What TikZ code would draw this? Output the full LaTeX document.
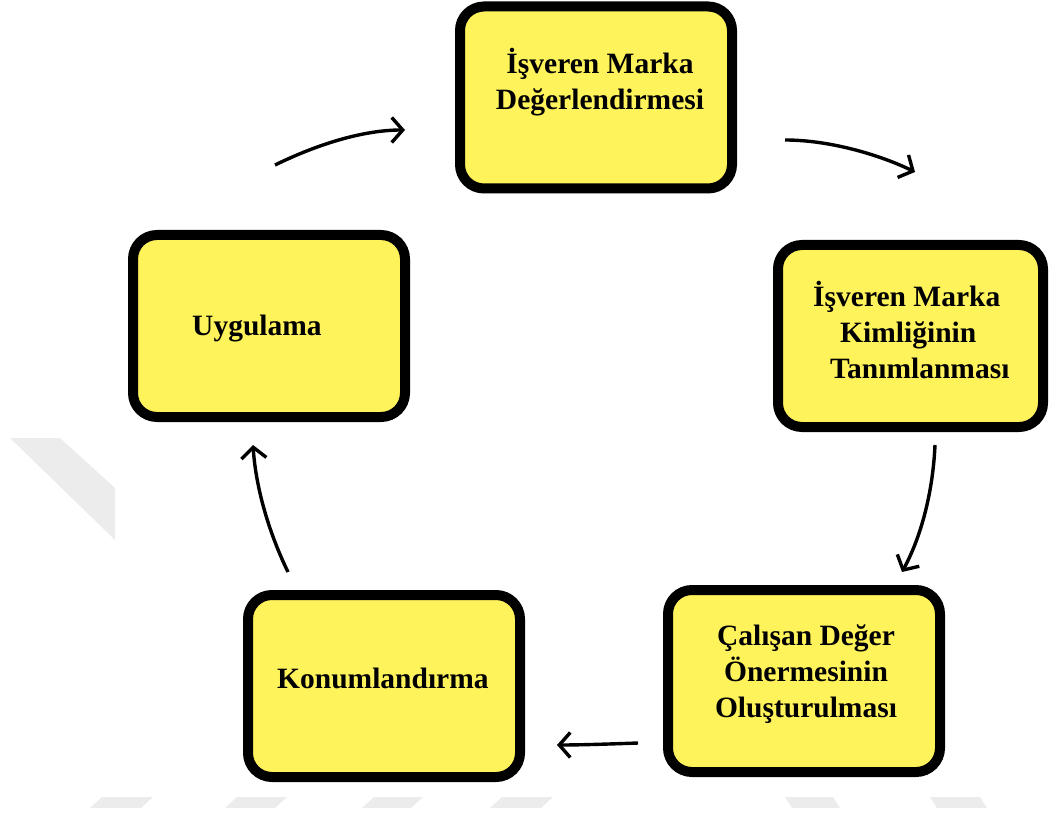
\documentclass[tikz,border=0pt]{standalone}
\usepackage{fontspec}
\setmainfont{Liberation Serif}
\usetikzlibrary{arrows.meta}
\definecolor{boxyellow}{RGB}{255,243,92}
\definecolor{wm}{RGB}{236,236,236}
\tikzset{
  stepbox/.style={draw=black, line width=10pt, fill=boxyellow, rounded corners=24pt,
    minimum width=272pt, minimum height=182pt, inner sep=0pt},
  boxtext/.style={font=\fontsize{29.5}{36}\selectfont\bfseries, inner sep=0pt},
  cyc/.style={line width=3.4pt, -{Straight Barb[length=11pt,width=25pt,line width=3.4pt]}},
  wmark/.style={fill=wm, draw=none}
}
\begin{document}
\begin{tikzpicture}[x=1pt,y=-1pt]
\useasboundingbox (0,0) rectangle (1049,818);
% watermark
\fill[wmark] (10,438) -- (60,438) -- (115,488) -- (115,540) -- cycle;
\fill[wmark] (90,808) -- (102,797) -- (153,797) -- (141,808) -- cycle;
\fill[wmark] (225,808) -- (237,797) -- (287,797) -- (275,808) -- cycle;
\fill[wmark] (362,808) -- (374,797) -- (423,797) -- (411,808) -- cycle;
\fill[wmark] (490,808) -- (502,797) -- (553,797) -- (541,808) -- cycle;
\fill[wmark] (785,797) -- (833,797) -- (840,808) -- (792,808) -- cycle;
\fill[wmark] (930,797) -- (980,797) -- (987,808) -- (937,808) -- cycle;
% boxes
\node[stepbox] (b1) at (596,97.5) {};
\node[stepbox, minimum width=265pt] (b2) at (910.5,336) {};
\node[stepbox] (b3) at (804,681) {};
\node[stepbox] (b4) at (384,686) {};
\node[stepbox] (b5) at (269,326) {};
% texts (base anchor = baseline of the last line)
\node[boxtext, align=center, anchor=base] (t1) at (600,110) {İşveren Marka\\Değerlendirmesi};
\node[boxtext, align=left, anchor=base west] (t2) at (813,378) {İşveren Marka\\\hspace*{27pt}Kimliğinin\\\hspace*{17pt}Tanımlanması};
\node[boxtext, align=center, anchor=base] (t3) at (806,717) {Çalışan Değer\\Önermesinin\\Oluşturulması};
\node[boxtext, anchor=base west] (t4) at (277,688) {Konumlandırma};
\node[boxtext, anchor=base west] (t5) at (192,335) {Uygulama};
% arrow end points
\coordinate (a1s) at (275,165);
\coordinate (a1e) at (405,130);
\coordinate (a2s) at (785,140);
\coordinate (a2e) at (915,172);
\coordinate (a3s) at (935,445);
\coordinate (a3e) at (902,572);
\coordinate (a4s) at (638,743);
\coordinate (a4e) at (557,745);
\coordinate (a5s) at (288,572);
\coordinate (a5e) at (253,445);
\draw[cyc] (a1s) .. controls (320,143) and (365,130) .. (a1e);
\draw[cyc] (a2s) .. controls (830,140) and (880,155) .. (a2e);
\draw[cyc] (a3s) .. controls (933,490) and (922,535) .. (a3e);
\draw[cyc] (a4s) .. controls (610,744) and (580,745) .. (a4e);
\draw[cyc] (a5s) .. controls (270,535) and (256,490) .. (a5e);
\end{tikzpicture}
\end{document}
